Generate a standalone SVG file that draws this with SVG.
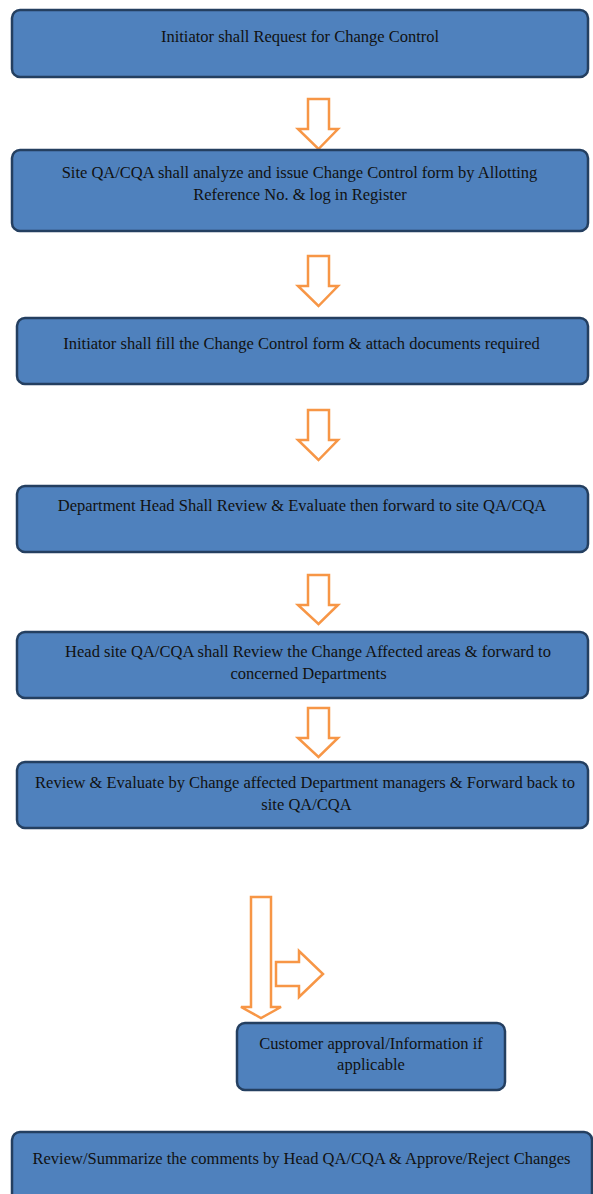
<svg xmlns="http://www.w3.org/2000/svg" width="593" height="1194" viewBox="0 0 593 1194">
<style>
.box{fill:#4F81BD;stroke:#243F60;stroke-width:2.5}
.t{font-family:'Liberation Serif','Times New Roman',serif;font-size:16.5px;fill:#111;text-anchor:middle}
.arr{fill:#fff;stroke:#F79646;stroke-width:2.5;stroke-linejoin:miter}
</style>
<rect width="593" height="1194" fill="#fff"/>
<g id="connectors">
<polygon class="arr" points="308,99 329,99 329,129 338,129 318.5,149 298,129 308,129"/>
<polygon class="arr" points="308,256 329,256 329,286 338,286 318.5,306 298,286 308,286"/>
<polygon class="arr" points="308,410 329,410 329,440 338,440 318.5,460 298,440 308,440"/>
<polygon class="arr" points="308,575 329,575 329,605 338,605 318.5,624 298,605 308,605"/>
<polygon class="arr" points="308,708 329,708 329,738 338,738 318.5,757 298,738 308,738"/>
<polygon class="arr" points="251,897 271,897 271,1007 281,1007 261,1018 241,1007 251,1007"/>
<polygon class="arr" points="276,962 299,962 299,951 323,974 299,997 299,986 276,986"/>
</g>
<g id="n1"><rect class="box" x="12" y="10" width="576" height="67" rx="8"/><text class="t" x="300" y="41.5">Initiator shall Request for Change Control</text></g>
<g id="n2"><rect class="box" x="12" y="150" width="576" height="81" rx="8"/><text class="t" x="299.5" y="177.5">Site QA/CQA shall analyze and issue Change Control form by Allotting</text><text class="t" x="300" y="199.5">Reference No. &amp; log in Register</text></g>
<g id="n3"><rect class="box" x="17" y="318" width="571" height="66" rx="8"/><text class="t" x="301.5" y="348.5">Initiator shall fill the Change Control form &amp; attach documents required</text></g>
<g id="n4"><rect class="box" x="17" y="486" width="571" height="66" rx="8"/><text class="t" x="302" y="510.5">Department Head Shall Review &amp; Evaluate then forward to site QA/CQA</text></g>
<g id="n5"><rect class="box" x="17" y="632" width="571" height="66" rx="8"/><text class="t" x="308" y="656.5">Head site QA/CQA shall Review the Change Affected areas &amp; forward to</text><text class="t" x="308.5" y="678.5">concerned Departments</text></g>
<g id="n6"><rect class="box" x="17" y="762" width="571" height="66" rx="8"/><text class="t" x="305" y="787.5">Review &amp; Evaluate by Change affected Department managers &amp; Forward back to</text><text class="t" x="306.5" y="809.5">site QA/CQA</text></g>
<g id="n7"><rect class="box" x="237" y="1023" width="268" height="67" rx="8"/><text class="t" x="371" y="1048.5">Customer approval/Information if</text><text class="t" x="371" y="1069.5">applicable</text></g>
<g id="n8"><rect class="box" x="12" y="1132" width="580" height="80" rx="8"/><text class="t" x="301.5" y="1163.5">Review/Summarize the comments by Head QA/CQA &amp; Approve/Reject Changes</text></g>
</svg>
